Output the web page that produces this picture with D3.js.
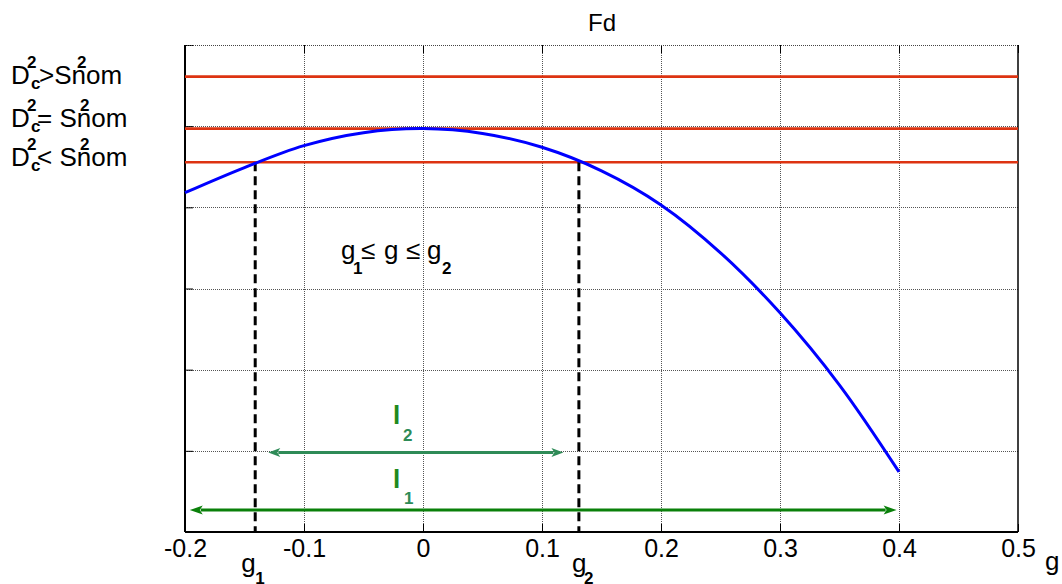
<!DOCTYPE html>
<html>
<head>
<meta charset="utf-8">
<script src="https://cdn.jsdelivr.net/npm/d3@7"></script>
<style>
  html, body { margin: 0; padding: 0; background: #fff; }
  svg { display: block; font-family: "Liberation Sans", Arial, Helvetica, sans-serif; }
</style>
</head>
<body>
<svg id="chart" width="1062" height="584"></svg>
<script>
// ---- data ----
const curveG = [-0.2, -0.15, -0.1, -0.05, 0, 0.05, 0.1, 0.15, 0.2, 0.25, 0.3, 0.35, 0.4];
const curveF = [4.18, 4.49, 4.76, 4.92, 4.97, 4.91, 4.74, 4.45, 4.03, 3.44, 2.70, 1.81, 0.74];
const levelValues = [5.61, 4.97, 4.555];           // D_c^2 > , = , < S^2nom
const levelOps = [">", "= ", "< "];
const gBounds = [-0.141, 0.131];                   // g1, g2
const l2Range = [-0.130, 0.118], l2Level = 0.98;
const l1Range = [-0.196, 0.398], l1Level = 0.27;
const xTicks = [-0.2, -0.1, 0, 0.1, 0.2, 0.3, 0.4, 0.5];
const xTickLabels = ["-0.2", "-0.1", "0", "0.1", "0.2", "0.3", "0.4", "0.5"];
const yTicks = [0, 1, 2, 3, 4, 5, 6];
const title = "Fd";

// ---- layout ----
const L = 185, R = 1018, T = 45, B = 532;
const svg = d3.select("#chart");
const x = d3.scaleLinear().domain([-0.2, 0.5]).range([L, R]);
const y = d3.scaleLinear().domain([0, 6]).range([B, T]);

// grid
const grid = svg.append("g").attr("stroke", "#555").attr("stroke-width", 1).attr("stroke-dasharray", "1 1");
grid.selectAll("line.v").data(xTicks.slice(1, -1)).join("line")
  .attr("x1", d => Math.round(x(d)) + 0.5).attr("x2", d => Math.round(x(d)) + 0.5)
  .attr("y1", T).attr("y2", B);
grid.selectAll("line.h").data(yTicks.slice(1)).join("line")
  .attr("y1", d => Math.round(y(d)) + 0.5).attr("y2", d => Math.round(y(d)) + 0.5)
  .attr("x1", L).attr("x2", R);

// axes (ticks + labels)
const xAxis = svg.append("g").attr("transform", `translate(0,${B})`)
  .call(d3.axisBottom(x).tickValues(xTicks).tickFormat((d, i) => xTickLabels[i]).tickSizeInner(-8).tickSizeOuter(0).tickPadding(7));
xAxis.select(".domain").remove();
xAxis.selectAll("line").attr("stroke", "#000");
xAxis.selectAll("text").attr("font-size", 25).attr("fill", "#000").attr("font-family", "Liberation Sans, Arial, sans-serif");

const xTop = svg.append("g").attr("transform", `translate(0,${T})`)
  .call(d3.axisTop(x).tickValues(xTicks).tickFormat("").tickSizeInner(-8).tickSizeOuter(0));
xTop.select(".domain").remove();
xTop.selectAll("line").attr("stroke", "#000");

const yAxis = svg.append("g").attr("transform", `translate(${L},0)`)
  .call(d3.axisLeft(y).tickValues(yTicks).tickFormat("").tickSizeInner(-8).tickSizeOuter(0));
yAxis.select(".domain").remove();
yAxis.selectAll("line").attr("stroke", "#000");

// box
svg.append("line").attr("x1", L).attr("x2", R).attr("y1", T + 0.5).attr("y2", T + 0.5).attr("stroke", "#444").attr("stroke-width", 1.2).attr("stroke-dasharray", "1 1");
svg.append("line").attr("x1", L).attr("x2", R).attr("y1", B).attr("y2", B).attr("stroke", "#000").attr("stroke-width", 2);
svg.append("line").attr("x1", L).attr("x2", L).attr("y1", T).attr("y2", B).attr("stroke", "#000").attr("stroke-width", 2);
svg.append("line").attr("x1", R).attr("x2", R).attr("y1", T).attr("y2", B).attr("stroke", "#000").attr("stroke-width", 1.5);

// red level lines
svg.selectAll("line.level").data(levelValues).join("line").attr("class", "level")
  .attr("x1", L).attr("x2", R)
  .attr("y1", d => y(d)).attr("y2", d => y(d))
  .attr("stroke", "#dd3311").attr("stroke-width", 2.6);

// dashed verticals
svg.selectAll("line.gb").data(gBounds).join("line").attr("class", "gb")
  .attr("x1", d => x(d)).attr("x2", d => x(d))
  .attr("y1", y(levelValues[2])).attr("y2", B + 1)
  .attr("stroke", "#000").attr("stroke-width", 3).attr("stroke-dasharray", "9 5");

// blue curve
const pts = curveG.map((g, i) => [g, curveF[i]]);
svg.append("path").datum(pts)
  .attr("d", d3.line().x(d => x(d[0])).y(d => y(d[1])).curve(d3.curveCatmullRom))
  .attr("fill", "none").attr("stroke", "#0000ff").attr("stroke-width", 3);

// arrows
function arrow(range, level, color, headLen, headHalf, width) {
  const yy = y(level), xa = x(range[0]), xb = x(range[1]);
  svg.append("line").attr("x1", xa + headLen - 2).attr("x2", xb - headLen + 2)
    .attr("y1", yy).attr("y2", yy).attr("stroke", color).attr("stroke-width", width);
  svg.append("path").attr("fill", color)
    .attr("d", `M${xa},${yy} L${xa + headLen},${yy - headHalf} L${xa + headLen - 3},${yy} L${xa + headLen},${yy + headHalf} Z`);
  svg.append("path").attr("fill", color)
    .attr("d", `M${xb},${yy} L${xb - headLen},${yy - headHalf} L${xb - headLen + 3},${yy} L${xb - headLen},${yy + headHalf} Z`);
}
arrow(l2Range, l2Level, "#2e8b57", 12, 4.5, 3);
arrow(l1Range, l1Level, "#0a800a", 13, 4.5, 3);

// text helper
function txt(s, px, py, size, weight, color) {
  svg.append("text").attr("x", px).attr("y", py).attr("font-size", size)
    .attr("font-weight", weight || "normal").attr("fill", color || "#000").text(s);
}

// title
svg.append("text").attr("x", 602).attr("y", 31).attr("text-anchor", "middle").attr("font-size", 24).text(title);

// left labels
const baseLines = [84, 127, 166];
levelOps.forEach((op, i) => {
  const b = baseLines[i];
  txt("D", 11, b, 26);
  txt("2", 27, b - 16, 17, "bold");
  txt("c", 31, b + 5, 17, "bold");
  txt(op + "Snom", i === 0 ? 39 : 37, b, 26);
  txt("2", i === 0 ? 77 : 80, b - 16, 17, "bold");
});

// g1 <= g <= g2
txt("g", 341, 259, 26);
txt("1", 353, 274, 17, "bold");
txt("\u2264", 361, 259, 26);
txt("g", 384, 259, 26);
txt("\u2264", 406, 259, 26);
txt("g", 427, 259, 26);
txt("2", 442, 274, 17, "bold");

// l labels
txt("l", 393, 424, 26, "bold", "#1f8a1f");
txt("2", 403, 441, 17, "bold", "#2e8b57");
txt("l", 393, 488, 26, "bold", "#1f8a1f");
txt("1", 404, 504, 17, "bold", "#2e8b57");

// axis-bound labels
txt("g", x(gBounds[0]) - 14, 572, 26);
txt("1", x(gBounds[0]) + 0, 584, 17, "bold");
txt("g", x(gBounds[1]) - 7, 572, 26);
txt("2", x(gBounds[1]) + 5, 584, 17, "bold");
txt("g", 1045, 570, 26);
</script>
</body>
</html>
